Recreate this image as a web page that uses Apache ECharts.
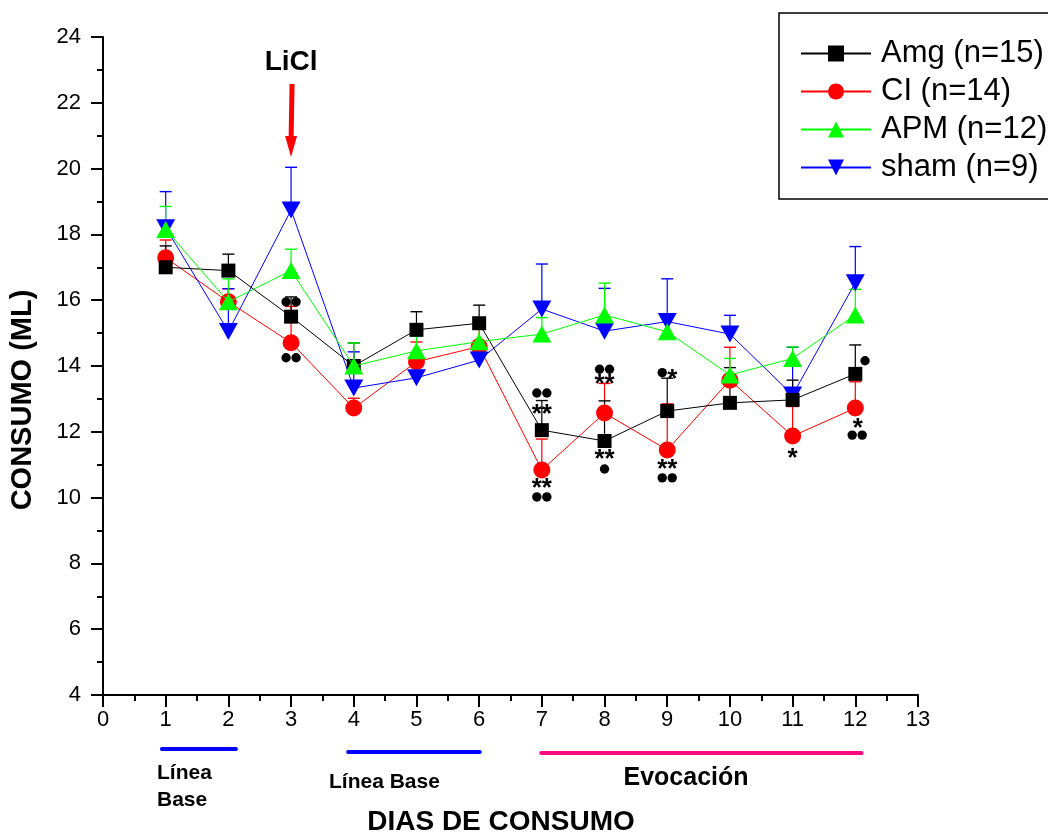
<!DOCTYPE html>
<html><head><meta charset="utf-8">
<script src="https://cdn.jsdelivr.net/npm/echarts@6/dist/echarts.min.js"></script>
<style>html,body{margin:0;padding:0;background:#fff}#c{width:1048px;height:834px}</style>
</head><body><div id="c"></div>
<script>
const FONT = '"Liberation Sans", Arial, sans-serif';
const days = [1,2,3,4,5,6,7,8,9,10,11,12];
const seriesNames = ['Amg (n=15)','CI (n=14)','APM (n=12)','sham (n=9)'];
const amg    = [17.0, 16.9, 15.5, 14.0, 15.1, 15.3, 12.05, 11.72, 12.63, 12.88, 12.97, 13.76];
const amgErr = [0.65, 0.5, 0.6, 0.7, 0.55, 0.55, 0.9, 1.22, 1.0, 1.07, 0.6, 0.88];
const ci     = [17.29, 15.95, 14.71, 12.72, 14.13, 14.59, 10.84, 12.57, 11.45, 13.57, 11.87, 12.72];
const ciErr  = [0.54, 0.4, 1.1, 0.3, 0.6, 0.66, 0.94, 0.9, 1.4, 1.0, 0.9, 0.8];
const apm    = [18.15, 15.95, 16.9, 14.0, 14.46, 14.74, 14.97, 15.55, 15.04, 13.73, 14.23, 15.55];
const apmErr = [0.7, 0.7, 0.65, 0.7, 0.45, 0.5, 0.5, 0.97, 0.4, 0.5, 0.35, 0.78];
const sham   = [18.2, 15.05, 18.74, 13.33, 13.64, 14.18, 15.73, 15.06, 15.35, 14.97, 13.12, 16.53];
const shamErr= [1.1, 1.3, 1.3, 1.1, 0.6, 0.5, 1.37, 1.3, 1.3, 0.57, 1.45, 1.1];

// significance annotations: x, y, text
const annX    = [3, 3, 7, 7, 7, 7, 8, 8, 8, 8, 9, 9, 9, 11, 12.155, 12.04, 12.03];
const annY    = [15.95, 14.25, 13.18, 12.72, 10.48, 10.02, 13.9, 13.63, 11.35, 10.87, 13.8, 11.05, 10.6, 11.38, 14.16, 12.3, 11.9];
const annText = ['●●','●●','●●','**','**','●●','●●','**','**','●','●*','**','●●','*','●','*','●●'];

// period bars under the axis (in days)
const periodFrom  = [0.94, 3.91, 6.99];
const periodTo    = [2.12, 6.01, 12.1];
const periodLabel = ['Línea\nBase', 'Línea Base', 'Evocación'];
const periodColor = ['#0000ff', '#0000ff', '#ff0a80'];
const liclDay = 3;

const chart = echarts.init(document.getElementById('c'));

function pairs(vals){ return days.map((d,i)=>[d, vals[i]]); }
function errData(vals, errs){ return days.map((d,i)=>[d, vals[i], errs[i]]); }
function errSeries(name, vals, errs, color){
  return {
    type:'custom', name: name + ' err', z: 1, silent:true,
    data: errData(vals, errs),
    renderItem: function(params, api){
      const x = api.value(0), y = api.value(1), e = api.value(2);
      const p0 = api.coord([x, y]), p1 = api.coord([x, y + e]);
      return {type:'group', children:[
        {type:'line', shape:{x1:p0[0], y1:p0[1], x2:p1[0], y2:p1[1]}, style:{stroke:color, lineWidth:1.2}},
        {type:'line', shape:{x1:p1[0]-6, y1:p1[1], x2:p1[0]+6, y2:p1[1]}, style:{stroke:color, lineWidth:1.4}}
      ]};
    }
  };
}
const downTri = 'path://M0,0 L20,0 L10,18 Z';

const axisCommon = {
  axisLine:{show:true, onZero:false, lineStyle:{color:'#000', width:2}},
  axisTick:{show:true, length:12, lineStyle:{color:'#000', width:2}},
  minorTick:{show:true, splitNumber:2, length:6, lineStyle:{color:'#000', width:2}},
  splitLine:{show:false},
  minorSplitLine:{show:false}
};

const option = {
  animation:false,
  backgroundColor:'#fff',
  grid:{left:103, right:130, top:37, bottom:139, containLabel:false, outerBoundsMode:'none'},
  xAxis: Object.assign({type:'value', min:0, max:13, interval:1,
    axisLabel:{fontSize:22, color:'#000', margin:14, fontFamily:FONT}}, axisCommon),
  yAxis: Object.assign({type:'value', min:4, max:24, interval:2,
    axisLabel:{fontSize:22, color:'#000', margin:22, fontFamily:FONT}}, axisCommon),
  legend:{
    data: seriesNames, orient:'vertical', left:795, top:33,
    itemWidth:70, itemHeight:20, itemGap:7,
    textStyle:{fontSize:31, color:'#000', fontFamily:FONT, lineHeight:31, padding:[0,0,0,5]},
    selectedMode:false
  },
  series:[
    errSeries('CI', ci, ciErr, '#ff0000'),
    errSeries('sham', sham, shamErr, '#0000ff'),
    errSeries('Amg', amg, amgErr, '#000000'),
    errSeries('APM', apm, apmErr, '#00ff00'),
    {name:seriesNames[1], type:'line', z:3, data:pairs(ci), symbol:'circle', symbolSize:17,
      lineStyle:{color:'#ff0000', width:1}, itemStyle:{color:'#ff0000'}},
    {name:seriesNames[3], type:'line', z:4, data:pairs(sham), symbol:downTri, symbolSize:[19,17],
      lineStyle:{color:'#0000ff', width:1}, itemStyle:{color:'#0000ff'}},
    {name:seriesNames[0], type:'line', z:5, data:pairs(amg), symbol:'rect', symbolSize:14,
      lineStyle:{color:'#000000', width:1}, itemStyle:{color:'#000000'}},
    {name:seriesNames[2], type:'line', z:6, data:pairs(apm), symbol:'triangle', symbolSize:[19,17],
      lineStyle:{color:'#00ff00', width:1}, itemStyle:{color:'#00ff00'}},
    {
      type:'custom', name:'annotations', z:10, silent:true,
      data: annX.map((x,i)=>[x, annY[i]]),
      renderItem: function(params, api){
        const t = Array.from(annText[params.dataIndex]);
        const p = api.coord([api.value(0), api.value(1)]);
        const step = 10;
        const x0 = p[0] - (t.length-1)*step/2;
        return {type:'group', children: t.map((ch, i) => ch === '●'
          ? {type:'circle', shape:{cx:x0+i*step, cy:p[1], r:4.7}, style:{fill:'#000'}}
          : {type:'text', style:{text:'*', x:x0+i*step, y:p[1]+7, font:'bold 26px ' + FONT,
              fill:'#000', align:'center', verticalAlign:'middle'}})};
      }
    }
  ]
};
chart.setOption(option);

// annotation graphics positioned from the axes
const g = [];
g.push({type:'rect', shape:{x:779, y:13, width:300, height:186}, style:{fill:'none', stroke:'#000', lineWidth:1.5}, z:100});
g.push({type:'text', x:23, y:400, rotation:Math.PI/2,
  style:{text:'CONSUMO (ML)', font:'bold 29px ' + FONT, fill:'#000', align:'center', verticalAlign:'middle'}});
const xc = chart.convertToPixel({xAxisIndex:0}, liclDay);
g.push({type:'text', x:xc, y:62, style:{text:'LiCl', font:'bold 28px ' + FONT, fill:'#000', align:'center', verticalAlign:'middle'}});
g.push({type:'line', shape:{x1:xc+1, y1:84, x2:xc, y2:140}, style:{stroke:'#ff0000', lineWidth:5}});
g.push({type:'polygon', shape:{points:[[xc-6,136],[xc+6,136],[xc,157]]}, style:{fill:'#ff0000'}});
const barY = [749, 752, 753];
for (let i = 0; i < periodFrom.length; i++) {
  const a = chart.convertToPixel({xAxisIndex:0}, periodFrom[i]);
  const b = chart.convertToPixel({xAxisIndex:0}, periodTo[i]);
  g.push({type:'line', shape:{x1:a, y1:barY[i], x2:b, y2:barY[i]}, style:{stroke:periodColor[i], lineWidth:4, lineCap:'round'}});
}
g.push({type:'text', x:157, y:760, style:{text:periodLabel[0], font:'bold 21px ' + FONT, fill:'#000', align:'left', verticalAlign:'top', lineHeight:27}});
g.push({type:'text', x:329, y:782, style:{text:periodLabel[1], font:'bold 21px ' + FONT, fill:'#000', align:'left', verticalAlign:'middle'}});
g.push({type:'text', x:686, y:778, style:{text:periodLabel[2], font:'bold 25px ' + FONT, fill:'#000', align:'center', verticalAlign:'middle'}});
g.push({type:'text', x:501, y:822, style:{text:'DIAS DE CONSUMO', font:'bold 28px ' + FONT, fill:'#000', align:'center', verticalAlign:'middle'}});
chart.setOption({graphic: g});
</script>
</body></html>
